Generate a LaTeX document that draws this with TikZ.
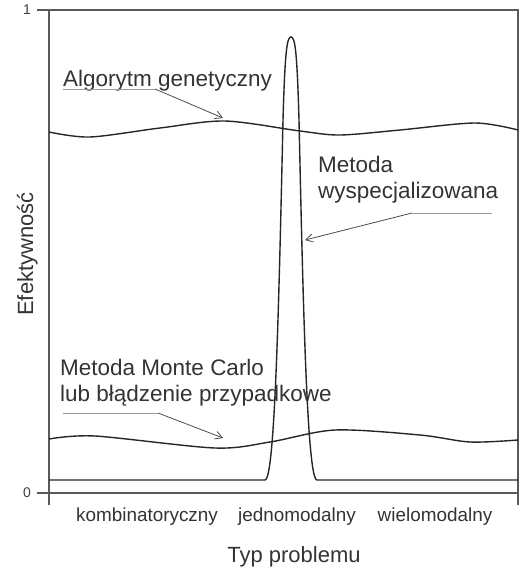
\documentclass[tikz,border=0pt]{standalone}
\usepackage{fontspec}
\setmainfont{Liberation Sans}
\usetikzlibrary{arrows.meta,positioning,calc}

\begin{document}
\begin{tikzpicture}[x=1pt, y=-1pt,
  axis/.style={line width=1.6pt, black!65},
  curve/.style={line width=1.4pt, black!85},
  lbl/.style={font=\fontsize{22.5}{25.5}\selectfont, align=left, text=black!80,
              inner sep=0pt, anchor=base west},
  cat/.style={font=\fontsize{18.9}{22}\selectfont, text=black!80, inner sep=0pt, anchor=base},
  tick/.style={font=\fontsize{14}{16}\selectfont, text=black!75, inner sep=0pt},
  under/.style={line width=1pt, black!40},
  arr/.style={-{Straight Barb[length=7pt, width=8pt]}, line width=0.8pt, black!70}
]
  \useasboundingbox (0,0) rectangle (519,571);

  % frame and axes
  \draw[axis] (49,505) -- (49,10) -- (518,10) -- (518,505);
  \draw[axis] (37,10) -- (49,10);
  \draw[axis] (37,493) -- (518,493);
  \node[tick] (one) at (27,10) {1};
  \node[tick] (zero) at (27,493) {0};

  % curves
  \draw[curve] (49,480) -- (265,480)
    .. controls (275,480) and (279,300) .. (283,120)
    .. controls (285,50) and (287,37) .. (291,37)
    .. controls (295,37) and (297,50) .. (299,120)
    .. controls (303,300) and (307,480) .. (317,480) -- (518,480);
  \draw[curve] plot[smooth] coordinates {(49,132) (90,137) (160,128) (225,121)
    (300,131) (340,135) (400,130) (475,123) (518,130)};
  \draw[curve] plot[smooth] coordinates {(49,439) (95,436) (215,448) (270,442)
    (335,430) (420,435) (470,442) (518,440)};

  % labels (base = last line)
  \node[lbl] (gen) at (63,86) {Algorytm genetyczny};
  \node[lbl] (spec) at (318,198) {Metoda\\wyspecjalizowana};
  \node[lbl] (mc) at (60,401) {Metoda Monte Carlo\\lub błądzenie przypadkowe};

  \coordinate (genA) at (63,89);
  \coordinate (genB) at (155,89);
  \coordinate (genT) at (223,118);
  \coordinate (specA) at (492,213);
  \coordinate (specB) at (412,213);
  \coordinate (specT) at (305,240);
  \coordinate (mcA) at (63,413);
  \coordinate (mcB) at (158,413);
  \coordinate (mcT) at (223,438);

  \draw[under] (genA) -- (genB);
  \draw[arr] (genB) -- (genT);
  \draw[under] (specA) -- (specB);
  \draw[arr] (specB) -- (specT);
  \draw[under] (mcA) -- (mcB);
  \draw[arr] (mcB) -- (mcT);

  % axis titles
  \node[cat] (komb) at (147,521) {kombinatoryczny};
  \node[cat] (jedn) at (297,521) {jednomodalny};
  \node[cat] (wiel) at (435,521) {wielomodalny};
  \node[cat, font=\fontsize{22}{25}\selectfont] (typ) at (294,562) {Typ problemu};
  \node[cat, font=\fontsize{22}{25}\selectfont, rotate=90] (efe) at (33,254) {Efektywność};
\end{tikzpicture}
\end{document}
